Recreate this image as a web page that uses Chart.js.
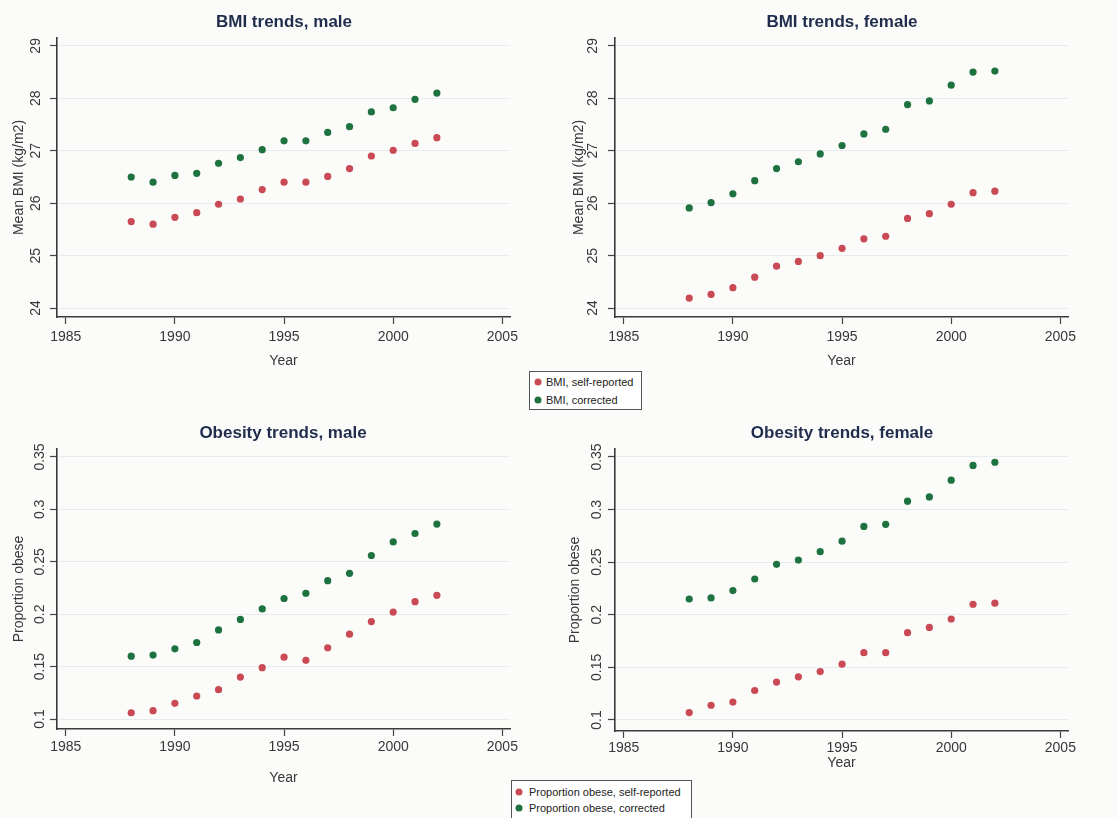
<!DOCTYPE html>
<html lang="en">
<head>
  <meta charset="UTF-8">
  <title>BMI and obesity trends</title>
  <script src="https://cdn.jsdelivr.net/npm/chart.js"></script>
  <style>
    body {
      margin: 0;
      width: 1117px;
      height: 818px;
      position: relative;
      overflow: hidden;
      background: #fbfbf9;
      font-family: 'Liberation Sans', Arial, sans-serif;
    }
    canvas { position: absolute; }
    .title {
      position: absolute;
      transform: translate(-50%, -50%);
      font-size: 17px;
      font-weight: bold;
      color: #1f2c4c;
      white-space: nowrap;
    }
    .legend {
      position: absolute;
      box-sizing: border-box;
      border: 1px solid #555;
      background: #fff;
      font-size: 11px;
      color: #222;
      white-space: nowrap;
    }
    .legend .row { position: absolute; height: 14px; line-height: 14px; transform: translateY(-50%); }
    .legend .dot {
      position: absolute;
      width: 7px;
      height: 7px;
      border-radius: 50%;
      transform: translate(-50%, -50%);
    }
  </style>
</head>
<body>
  <canvas id="c1" width="558" height="372" style="left:0;top:0"></canvas>
  <canvas id="c2" width="559" height="372" style="left:558px;top:0"></canvas>
  <canvas id="c3" width="558" height="418" style="left:0;top:400px"></canvas>
  <canvas id="c4" width="559" height="418" style="left:558px;top:400px"></canvas>

  <div class="title" style="left:284px;top:22px">BMI trends, male</div>
  <div class="title" style="left:842px;top:22px">BMI trends, female</div>
  <div class="title" style="left:283px;top:433px">Obesity trends, male</div>
  <div class="title" style="left:842px;top:433px">Obesity trends, female</div>

  <div class="legend" style="left:529px;top:371px;width:113px;height:39px">
    <span class="dot" style="left:8px;top:10px;background:#c94a54"></span>
    <div class="row" style="left:16px;top:10px">BMI, self-reported</div>
    <span class="dot" style="left:8px;top:28px;background:#1d7240"></span>
    <div class="row" style="left:16px;top:28px">BMI, corrected</div>
  </div>
  <div class="legend" style="left:511px;top:780px;width:181px;height:40px">
    <span class="dot" style="left:7px;top:11px;background:#c94a54"></span>
    <div class="row" style="left:17px;top:11px">Proportion obese, self-reported</div>
    <span class="dot" style="left:7px;top:27px;background:#1d7240"></span>
    <div class="row" style="left:17px;top:27px">Proportion obese, corrected</div>
  </div>

  <script>
    // values
    const years = [1988, 1989, 1990, 1991, 1992, 1993, 1994, 1995, 1996, 1997, 1998, 1999, 2000, 2001, 2002];
    const bmiMaleSelf = [25.65, 25.60, 25.73, 25.82, 25.98, 26.08, 26.26, 26.40, 26.40, 26.51, 26.66, 26.90, 27.01, 27.14, 27.25];
    const bmiMaleCorr = [26.50, 26.40, 26.53, 26.57, 26.76, 26.87, 27.02, 27.19, 27.19, 27.35, 27.46, 27.74, 27.82, 27.98, 28.10];
    const bmiFemaleSelf = [24.19, 24.26, 24.39, 24.59, 24.80, 24.89, 25.00, 25.14, 25.32, 25.37, 25.71, 25.80, 25.98, 26.20, 26.23];
    const bmiFemaleCorr = [25.91, 26.01, 26.18, 26.43, 26.66, 26.79, 26.94, 27.10, 27.32, 27.41, 27.88, 27.95, 28.25, 28.50, 28.52];
    const obeseMaleSelf = [0.106, 0.108, 0.115, 0.122, 0.128, 0.140, 0.149, 0.159, 0.156, 0.168, 0.181, 0.193, 0.202, 0.212, 0.218];
    const obeseMaleCorr = [0.160, 0.161, 0.167, 0.173, 0.185, 0.195, 0.205, 0.215, 0.220, 0.232, 0.239, 0.256, 0.269, 0.277, 0.286];
    const obeseFemaleSelf = [0.107, 0.114, 0.117, 0.128, 0.136, 0.141, 0.146, 0.153, 0.164, 0.164, 0.183, 0.188, 0.196, 0.210, 0.211];
    const obeseFemaleCorr = [0.215, 0.216, 0.223, 0.234, 0.248, 0.252, 0.260, 0.270, 0.284, 0.286, 0.308, 0.312, 0.328, 0.342, 0.345];

    const yearTicks = [1985, 1990, 1995, 2000, 2005];
    const bmiTicks = [24, 25, 26, 27, 28, 29];
    const obeseTicks = [0.1, 0.15, 0.2, 0.25, 0.3, 0.35];

    const RED = '#c94a54';
    const GREEN = '#1d7240';
    const INK = '#383838';

    Chart.defaults.font.family = "'Liberation Sans', Arial, sans-serif";

    // area = plot rectangle inside each canvas [left, top, right, bottom]
    const panels = [
      { id: 'c1', self: bmiMaleSelf, corr: bmiMaleCorr, ticks: bmiTicks, yMin: 23.83, yMax: 29.15,
        yLabel: 'Mean BMI (kg/m2)', area: [57, 38, 510, 317], yPad: 6, yTitlePad: 10.5, xPad: 4.5, xTitlePad: 2 },
      { id: 'c2', self: bmiFemaleSelf, corr: bmiFemaleCorr, ticks: bmiTicks, yMin: 23.83, yMax: 29.15,
        yLabel: 'Mean BMI (kg/m2)', area: [57, 38, 510, 317], yPad: 7, yTitlePad: 12.5, xPad: 4.5, xTitlePad: 2 },
      { id: 'c3', self: obeseMaleSelf, corr: obeseMaleCorr, ticks: obeseTicks, yMin: 0.0905, yMax: 0.3576,
        yLabel: 'Proportion obese', area: [57, 49, 510, 329], yPad: -3.5, yTitlePad: 10.5, xPad: 2.5, xTitlePad: 31.5 },
      { id: 'c4', self: obeseFemaleSelf, corr: obeseFemaleCorr, ticks: obeseTicks, yMin: 0.0895, yMax: 0.3576,
        yLabel: 'Proportion obese', area: [57, 49, 510, 331], yPad: -2.5, yTitlePad: 8.5, xPad: 1.5, xTitlePad: 46.5 }
    ];

    function makeChart(p) {
      const canvas = document.getElementById(p.id);
      const w = canvas.width, h = canvas.height;
      const [al, at, ar, ab] = p.area;
      const pts = vals => years.map((x, i) => ({ x: x, y: vals[i] }));

      new Chart(canvas, {
        type: 'scatter',
        data: {
          datasets: [
            { data: pts(p.self), backgroundColor: RED, borderWidth: 0, pointRadius: 3.6, pointHoverRadius: 3.6 },
            { data: pts(p.corr), backgroundColor: GREEN, borderWidth: 0, pointRadius: 3.6, pointHoverRadius: 3.6 }
          ]
        },
        options: {
          responsive: false,
          animation: false,
          events: [],
          layout: { padding: { left: 0, top: at, right: w - ar, bottom: 0 } },
          plugins: { legend: { display: false }, tooltip: { enabled: false } },
          scales: {
            x: {
              type: 'linear',
              min: 1984.6,
              max: 2005.35,
              afterBuildTicks: s => { s.ticks = yearTicks.map(v => ({ value: v })); },
              afterFit: s => { s.height = h - ab; },
              grid: { drawOnChartArea: false, tickLength: 7, tickColor: '#444', tickWidth: 1.2 },
              border: { color: '#3a3a3a', width: 1.6 },
              ticks: { font: { size: 14 }, color: INK, padding: p.xPad, maxRotation: 0,
                callback: v => String(v) },
              title: { display: true, text: 'Year', font: { size: 14 }, color: INK,
                padding: { top: 0, bottom: p.xTitlePad } }
            },
            y: {
              type: 'linear',
              min: p.yMin,
              max: p.yMax,
              afterBuildTicks: s => { s.ticks = p.ticks.map(v => ({ value: v })); },
              afterFit: s => { s.width = al; },
              grid: { color: '#e6ecef', lineWidth: 1, tickLength: 7, tickColor: '#444', tickWidth: 1.2 },
              border: { color: '#3a3a3a', width: 1.6 },
              ticks: { font: { size: 14 }, color: INK, padding: p.yPad, minRotation: 90, maxRotation: 90,
                crossAlign: 'center', callback: v => String(v) },
              title: { display: true, text: p.yLabel, font: { size: 14 }, color: INK,
                padding: { top: p.yTitlePad, bottom: 0 } }
            }
          }
        }
      });
    }

    panels.forEach(makeChart);
  </script>
</body>
</html>
